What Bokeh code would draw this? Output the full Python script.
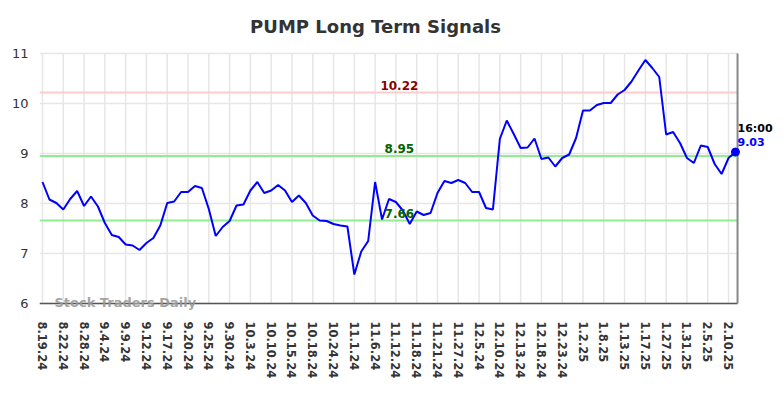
from bokeh.plotting import figure
from bokeh.models import FixedTicker, Label, ColumnDataSource
from bokeh.embed import file_html
from bokeh.resources import INLINE

title = "PUMP Long Term Signals"
date_labels = ["8.19.24", "8.22.24", "8.28.24", "9.4.24", "9.9.24", "9.12.24", "9.17.24",
               "9.20.24", "9.25.24", "9.30.24", "10.3.24", "10.10.24", "10.15.24", "10.18.24",
               "10.24.24", "11.1.24", "11.6.24", "11.12.24", "11.18.24", "11.21.24", "11.27.24",
               "12.5.24", "12.10.24", "12.13.24", "12.18.24", "12.23.24", "1.2.25", "1.8.25",
               "1.13.25", "1.17.25", "1.27.25", "1.31.25", "2.5.25", "2.10.25"]
label_step = 3
prices = [8.43, 8.08, 8.01, 7.88, 8.09, 8.25, 7.95, 8.14, 7.94, 7.61,
          7.37, 7.33, 7.18, 7.16, 7.07, 7.21, 7.31, 7.56, 8.01, 8.04,
          8.23, 8.23, 8.35, 8.31, 7.89, 7.35, 7.53, 7.65, 7.96, 7.98,
          8.26, 8.43, 8.21, 8.26, 8.37, 8.26, 8.03, 8.16, 8.01, 7.76,
          7.66, 7.65, 7.59, 7.56, 7.54, 6.58, 7.04, 7.25, 8.43, 7.68,
          8.09, 8.03, 7.86, 7.59, 7.84, 7.77, 7.81, 8.21, 8.45, 8.41,
          8.47, 8.41, 8.23, 8.23, 7.91, 7.88, 9.29, 9.66, 9.39, 9.11,
          9.12, 9.30, 8.89, 8.92, 8.74, 8.91, 8.98, 9.31, 9.86, 9.86,
          9.97, 10.01, 10.01, 10.18, 10.27, 10.44, 10.66, 10.87, 10.71, 10.53,
          9.38, 9.43, 9.21, 8.91, 8.81, 9.16, 9.13, 8.79, 8.59, 8.91,
          9.03]
resistance = 10.22
support_hi = 8.95
support_lo = 7.66
last_time = "16:00"
watermark = "Stock Traders Daily"
y_ticks = [6, 7, 8, 9, 10, 11]

n = len(prices)
xs = list(range(n))
src = ColumnDataSource(dict(x=xs, y=prices))

W, H = 780, 394
x0 = -0.433          # left edge of chart area
x_end = n - 1 + 0.3  # right border line of the chart area
ymin, ymax = y_ticks[0], y_ticks[-1]

p = figure(width=W, height=H, output_backend="svg", toolbar_location=None,
           x_range=(x0, 106.5), y_range=(5.82, 12.06),
           min_border_left=39, min_border_right=0, min_border_top=0, min_border_bottom=82)
p.outline_line_color = None
p.background_fill_color = "white"
p.xgrid.visible = False
p.ygrid.visible = False

tick_pos = list(range(0, len(date_labels) * label_step, label_step))
p.xaxis.ticker = FixedTicker(ticks=tick_pos)
p.xaxis.major_label_overrides = {t: l for t, l in zip(tick_pos, date_labels)}
p.xaxis.major_label_orientation = "vertical"
p.xaxis.major_label_text_font = "DejaVu Sans"
p.xaxis.major_label_text_font_style = "bold"
p.xaxis.major_label_text_font_size = "11.5px"
p.xaxis.major_label_text_color = "#333333"
p.xaxis.major_label_standoff = 9
p.xaxis.major_tick_out = 0
p.xaxis.major_tick_in = 0
p.xaxis.minor_tick_line_color = None
p.xaxis.axis_line_color = None

p.yaxis.ticker = FixedTicker(ticks=y_ticks)
p.yaxis.major_label_text_font = "DejaVu Sans"
p.yaxis.major_label_text_font_size = "13px"
p.yaxis.major_label_text_color = "#333333"
p.yaxis.major_label_standoff = 11
p.yaxis.major_tick_out = 0
p.yaxis.major_tick_in = 0
p.yaxis.minor_tick_line_color = None
p.yaxis.axis_line_color = None

# grid lines
p.segment(x0=tick_pos, y0=[ymin] * len(tick_pos), x1=tick_pos, y1=[ymax] * len(tick_pos),
          line_color="#e6e6e6", line_width=1.5)
p.segment(x0=[x0] * len(y_ticks), y0=y_ticks, x1=[x_end] * len(y_ticks), y1=y_ticks,
          line_color="#e6e6e6", line_width=1.5)

# signal levels
p.segment(x0=[x0] * 3, y0=[resistance, support_hi, support_lo], x1=[x_end] * 3,
          y1=[resistance, support_hi, support_lo],
          line_color=["#ffcccc", "#90ee90", "#90ee90"], line_width=2)

# axis line and right border
p.segment(x0=[x0], y0=[ymin], x1=[x_end], y1=[ymin], line_color="#555555", line_width=1.5)
p.segment(x0=[x_end], y0=[ymin], x1=[x_end], y1=[ymax], line_color="#888888", line_width=2)

p.line("x", "y", source=src, line_color="#0000ff", line_width=2)
p.scatter([xs[-1]], [prices[-1]], size=8, color="#0000ff")

mid = 51.5
for val, col in [(resistance, "#8b0000"), (support_hi, "#006400"), (support_lo, "#006400")]:
    p.add_layout(Label(x=mid, y=val, text=f"{val:.2f}", text_align="center",
                       text_baseline="bottom", y_offset=3, text_color=col,
                       text_font="DejaVu Sans", text_font_style="bold", text_font_size="12px"))

p.add_layout(Label(x=x_end, y=9.5, text=last_time, text_align="left", text_baseline="middle",
                   text_color="black", text_font="DejaVu Sans", text_font_style="bold",
                   text_font_size="11px"))
p.add_layout(Label(x=x_end, y=9.24, text=f"{prices[-1]:.2f}", text_align="left",
                   text_baseline="middle", text_color="#0000ff", text_font="DejaVu Sans",
                   text_font_style="bold", text_font_size="11px"))

p.add_layout(Label(x=1.73, y=6.02, text=watermark, text_align="left", text_baseline="middle",
                   text_color="#999999", text_alpha=0.9, text_font="DejaVu Sans",
                   text_font_style="bold", text_font_size="13px"))

p.add_layout(Label(x=48.06, y=11.54, text=title,
                   text_align="center", text_baseline="middle", text_color="#333333",
                   text_font="DejaVu Sans", text_font_style="bold", text_font_size="18px"))

open("out.html", "w").write(file_html(p, INLINE))
